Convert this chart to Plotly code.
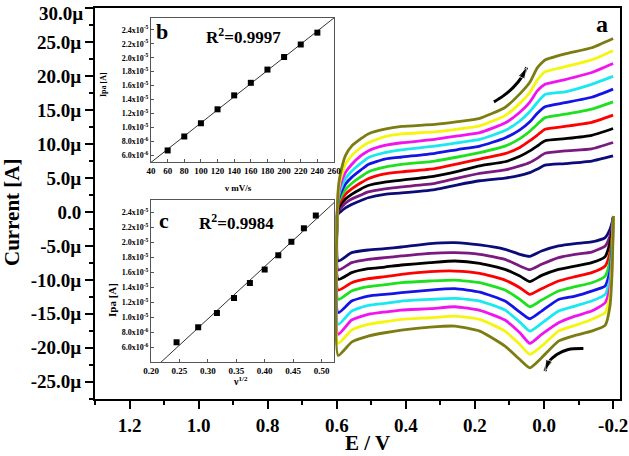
import numpy as np
import plotly.graph_objects as go

# ---------------- main CV data (E in V, current in µA) ----------------
E_lower = [-0.201, -0.197, -0.191, -0.177, -0.138, -0.090, -0.042, 0.007, 0.041, 0.070,
           0.113, 0.186, 0.258, 0.330, 0.413, 0.461, 0.509, 0.557, 0.596]
E_upper = [0.598, 0.595, 0.590, 0.575, 0.557, 0.530, 0.509, 0.461, 0.412, 0.316,
           0.250, 0.186, 0.113, 0.070, 0.041, 0.020, -0.003, -0.061, -0.138, -0.200]

navy_low = [-0.6, -1.57, -2.55, -3.78, -4.42, -4.66, -5.01, -5.75, -6.53, -6.24, -5.5, -4.86, -4.52, -4.66, -5.16, -5.40, -5.6, -5.99, -7.22]
purple_low = [-0.6, -2.06, -3.53, -5.01, -5.9, -6.24, -6.73, -7.71, -8.5, -7.96, -6.98, -6.24, -5.99, -6.09, -6.48, -6.73, -6.98, -7.47, -8.55]
black_low = [-0.6, -2.8, -4.52, -6.58, -7.47, -7.96, -8.45, -9.34, -10.27, -9.44, -8.45, -7.56, -7.22, -7.47, -7.81, -8.11, -8.35, -8.94, -9.93]
red_low = [-0.6, -3.53, -5.99, -7.96, -8.94, -9.53, -10.17, -11.3, -12.14, -11.16, -10.03, -9.04, -8.7, -8.79, -9.19, -9.53, -9.83, -10.42, -11.5]
green_low = [-0.6, -4.27, -7.22, -9.44, -10.42, -11.01, -11.65, -12.98, -13.96, -12.88, -11.5, -10.42, -10.03, -10.17, -10.42, -10.71, -11.01, -11.65, -12.88]
blue_low = [-0.6, -5.01, -8.7, -10.91, -11.65, -12.39, -12.88, -14.6, -15.73, -14.74, -13.12, -11.8, -11.3, -11.5, -11.89, -12.14, -12.39, -13.12, -14.84]
cyan_low = [-0.6, -5.99, -9.93, -12.14, -13.12, -13.86, -14.6, -16.41, -17.55, -16.22, -14.45, -13.12, -12.73, -12.88, -13.12, -13.47, -13.76, -14.6, -16.56]
magenta_low = [-0.6, -6.98, -11.16, -13.37, -14.6, -15.34, -16.32, -18.04, -19.36, -17.79, -15.92, -14.5, -13.96, -14.25, -14.45, -14.74, -15.09, -15.92, -18.04]
yellow_low = [-0.6, -7.96, -12.39, -14.84, -15.83, -16.71, -17.55, -19.76, -20.98, -19.51, -17.55, -15.83, -15.34, -15.58, -15.83, -16.17, -16.56, -17.4, -19.36]
olive_low = [-0.6, -8.94, -13.86, -16.71, -17.55, -18.19, -19.02, -21.48, -22.96, -21.73, -19.76, -17.55, -16.81, -16.96, -17.4, -17.79, -18.28, -19.17, -21.13]

navy_up = [-0.6, -0.2, 0.0, 0.6, 1.1, 1.7, 2.1, 2.6, 2.8, 3.3, 4.0, 4.6, 5.0, 5.4, 5.8, 6.3, 6.9, 7.13, 7.5, 8.26]
purple_up = [-0.4, 0.2, 0.5, 1.3, 1.9, 2.5, 2.95, 3.4, 3.7, 4.2, 5.0, 5.7, 6.2, 6.8, 7.3, 7.9, 8.65, 9.0, 9.3, 10.23]
black_up = [-0.2, 0.6, 1.0, 1.9, 2.6, 3.4, 3.9, 4.4, 4.7, 5.3, 6.0, 6.8, 7.4, 8.2, 9.0, 9.7, 10.5, 10.8, 11.3, 12.3]
red_up = [0.0, 1.0, 1.5, 2.6, 3.4, 4.3, 4.9, 5.6, 5.9, 6.4, 7.1, 7.8, 8.6, 9.5, 10.5, 11.3, 12.2, 12.6, 13.2, 14.26]
green_up = [0.2, 1.4, 2.0, 3.3, 4.2, 5.2, 5.9, 6.6, 7.0, 7.5, 8.1, 8.75, 9.7, 10.8, 11.9, 12.9, 13.9, 14.4, 15.15, 16.23]
blue_up = [0.4, 1.8, 2.6, 4.1, 5.1, 6.2, 7.0, 7.8, 8.1, 8.65, 9.2, 9.7, 10.9, 12.1, 13.3, 14.5, 15.5, 16.1, 16.9, 18.1]
cyan_up = [0.6, 2.2, 3.2, 4.9, 6.0, 7.2, 8.0, 8.75, 9.15, 9.7, 10.2, 10.7, 12.0, 13.4, 14.8, 16.1, 17.3, 17.7, 18.8, 19.97]
magenta_up = [0.8, 2.6, 3.9, 5.8, 7.0, 8.3, 9.0, 9.8, 10.2, 10.7, 11.2, 11.7, 13.1, 14.7, 16.2, 17.8, 18.8, 19.5, 20.55, 21.88]
yellow_up = [1.0, 3.1, 4.7, 7.0, 8.3, 9.5, 10.2, 11.1, 11.5, 11.8, 12.2, 12.7, 14.2, 16.0, 17.6, 19.4, 20.65, 21.4, 22.4, 23.75]
olive_up = [1.2, 3.8, 5.5, 8.3, 9.7, 10.8, 11.5, 12.2, 12.6, 12.9, 13.3, 13.8, 15.4, 17.4, 19.1, 21.2, 22.4, 23.3, 24.2, 25.57]

curve_colors = ["#0c0c78", "#7a1a80", "#000000", "#ff0000", "#1fe01f",
                "#1414e6", "#1ae8f0", "#f014f0", "#f5f510", "#7c7c12"]

# scan direction arrows (E in V, current in µA)
arrow1_E = [0.145, 0.118, 0.089, 0.065, 0.050]
arrow1_I = [16.22, 17.1, 18.35, 19.82, 21.3]
arrow2_E = [-0.114, -0.070, -0.037, -0.012, -0.003]
arrow2_I = [-20.1, -20.25, -21.0, -22.2, -23.45]

# main axis ticks (the top "30.0µ" label is placed as text just below its tick)
y_ticks = [30, 25, 20, 15, 10, 5, 0, -5, -10, -15, -20, -25]
y_ticklabels = ["", "25.0µ", "20.0µ", "15.0µ", "10.0µ", "5.0µ", "0.0",
                "-5.0µ", "-10.0µ", "-15.0µ", "-20.0µ", "-25.0µ"]
y_top_label = "30.0µ"
x_ticks = [1.2, 1.0, 0.8, 0.6, 0.4, 0.2, 0.0, -0.2]
x_ticklabels = ["1.2", "1.0", "0.8", "0.6", "0.4", "0.2", "0.0", "-0.2"]

# ---------------- inset data ----------------
scan_rate = [60, 80, 100, 120, 140, 160, 180, 200, 220, 240]       # mV/s
sqrt_rate = [0.245, 0.283, 0.316, 0.346, 0.374, 0.400, 0.424, 0.447, 0.469, 0.490]
ipa = [6.7e-6, 8.7e-6, 10.6e-6, 12.6e-6, 14.6e-6, 16.4e-6, 18.3e-6, 20.1e-6, 21.9e-6, 23.6e-6]

inset_y_ticks = [6e-6, 8e-6, 1.0e-5, 1.2e-5, 1.4e-5, 1.6e-5, 1.8e-5, 2.0e-5, 2.2e-5, 2.4e-5]
inset_y_labels = ["6.0x10<sup>-6</sup>", "8.0x10<sup>-6</sup>", "1.0x10<sup>-5</sup>", "1.2x10<sup>-5</sup>",
                  "1.4x10<sup>-5</sup>", "1.6x10<sup>-5</sup>", "1.8x10<sup>-5</sup>", "2.0x10<sup>-5</sup>",
                  "2.2x10<sup>-5</sup>", "2.4x10<sup>-5</sup>"]
b_x_ticks = [40, 60, 80, 100, 120, 140, 160, 180, 200, 220, 240, 260]
c_x_ticks = [0.20, 0.25, 0.30, 0.35, 0.40, 0.45, 0.50]
c_x_labels = ["0.20", "0.25", "0.30", "0.35", "0.40", "0.45", "0.50"]

# ---------------- figure ----------------
W, H = 629, 456
ML, MR, MT, MB = 95, 9, 8, 57
PW, PH = W - ML - MR, H - MT - MB


def px(x):
    return (x - ML) / PW


def py(y):
    return (H - MB - y) / PH


SERIF = "Liberation Serif"
fig = go.Figure()

lows = [navy_low, purple_low, black_low, red_low, green_low, blue_low, cyan_low, magenta_low, yellow_low, olive_low]
ups = [navy_up, purple_up, black_up, red_up, green_up, blue_up, cyan_up, magenta_up, yellow_up, olive_up]
for low, up, col in zip(lows, ups, curve_colors):
    fig.add_trace(go.Scatter(
        x=E_lower + E_upper, y=low + up, mode="lines",
        line=dict(color=col, width=2.8, shape="spline", smoothing=0.5),
        showlegend=False, hoverinfo="skip", xaxis="x", yaxis="y"))

for ae, ai in [(arrow1_E, arrow1_I), (arrow2_E, arrow2_I)]:
    fig.add_trace(go.Scatter(
        x=ae, y=ai, mode="lines+markers",
        line=dict(color="black", width=3, shape="spline"),
        marker=dict(symbol="arrow", size=[0, 0, 0, 0, 12], angleref="previous", color="black"),
        showlegend=False, hoverinfo="skip", xaxis="x", yaxis="y"))

# inset b
b_fit = np.polyfit(scan_rate, ipa, 1)
bx = [40, 260]
fig.add_trace(go.Scatter(x=bx, y=list(np.polyval(b_fit, bx)), mode="lines",
                         line=dict(color="#333", width=1), showlegend=False,
                         xaxis="x2", yaxis="y2", hoverinfo="skip"))
fig.add_trace(go.Scatter(x=scan_rate, y=ipa, mode="markers",
                         marker=dict(symbol="square", size=6, color="black"),
                         showlegend=False, xaxis="x2", yaxis="y2"))
# inset c
c_fit = np.polyfit(sqrt_rate, ipa, 1)
cx = [0.20, 0.525]
fig.add_trace(go.Scatter(x=cx, y=list(np.polyval(c_fit, cx)), mode="lines",
                         line=dict(color="#333", width=1), showlegend=False,
                         xaxis="x3", yaxis="y3", hoverinfo="skip"))
fig.add_trace(go.Scatter(x=sqrt_rate, y=ipa, mode="markers",
                         marker=dict(symbol="square", size=6, color="black"),
                         showlegend=False, xaxis="x3", yaxis="y3"))

main_font = dict(family=SERIF, size=19, color="black", weight="bold")
inset_font = dict(family=SERIF, size=8, color="black", weight="bold")

fig.update_layout(
    width=W, height=H,
    margin=dict(l=ML, r=MR, t=MT, b=MB, autoexpand=False),
    paper_bgcolor="white", plot_bgcolor="white",
    xaxis=dict(domain=[0, 1], range=[1.30, -0.22], showgrid=False, zeroline=False, automargin=False,
               showline=True, linecolor="black", linewidth=2, mirror=True, ticklabeloverflow="allow",
               ticks="outside", ticklen=8, tickwidth=1.5, tickcolor="black",
               tickvals=x_ticks, ticktext=x_ticklabels, tickfont=main_font,
               minor=dict(ticks="outside", ticklen=4, tickwidth=1.5, tickcolor="black",
                          tickvals=[1.3, 1.1, 0.9, 0.7, 0.5, 0.3, 0.1, -0.1])),
    yaxis=dict(domain=[0, 1], range=[-27.55, 30.05], showgrid=False, zeroline=False, automargin=False,
               showline=True, linecolor="black", linewidth=2, mirror=True, ticklabeloverflow="allow",
               ticks="outside", ticklen=8, tickwidth=1.5, tickcolor="black",
               tickvals=y_ticks, ticktext=y_ticklabels, tickfont=main_font,
               minor=dict(ticks="outside", ticklen=4, tickwidth=1.5, tickcolor="black",
                          tickvals=[27.5, 22.5, 17.5, 12.5, 7.5, 2.5, -2.5, -7.5, -12.5, -17.5, -22.5, -27.5])),
    xaxis2=dict(domain=[px(151), px(334)], range=[40, 260], anchor="y2", automargin=False,
                showgrid=False, zeroline=False, showline=True, linecolor="#555", linewidth=1, mirror=True,
                ticks="inside", ticklen=3, tickcolor="#555", tickvals=b_x_ticks,
                tickfont=dict(family=SERIF, size=9, color="black", weight="bold")),
    yaxis2=dict(domain=[py(162), py(18)], range=[5.04e-6, 25.7e-6], anchor="x2", automargin=False,
                showgrid=False, zeroline=False, showline=True, linecolor="#555", linewidth=1, mirror=True,
                ticks="inside", ticklen=3, tickcolor="#555",
                tickvals=inset_y_ticks, ticktext=inset_y_labels, tickfont=inset_font),
    xaxis3=dict(domain=[px(151), px(334)], range=[0.20, 0.522], anchor="y3", automargin=False,
                showgrid=False, zeroline=False, showline=True, linecolor="#555", linewidth=1, mirror=True,
                ticks="inside", ticklen=3, tickcolor="#555", tickvals=c_x_ticks, ticktext=c_x_labels,
                tickfont=dict(family=SERIF, size=9, color="black", weight="bold")),
    yaxis3=dict(domain=[py(362), py(200)], range=[4.07e-6, 25.67e-6], anchor="x3", automargin=False,
                showgrid=False, zeroline=False, showline=True, linecolor="#555", linewidth=1, mirror=True,
                ticks="inside", ticklen=3, tickcolor="#555",
                tickvals=inset_y_ticks, ticktext=inset_y_labels, tickfont=inset_font),
)


def ann(text, x, y, size, angle=0, xanchor="center"):
    fig.add_annotation(text=text, x=px(x), y=py(y), xref="paper", yref="paper",
                       showarrow=False, textangle=angle, xanchor=xanchor, yanchor="middle",
                       font=dict(family=SERIF, size=size, color="black", weight="bold"))


ann(y_top_label, 85, 13, 19, xanchor="right")
ann("Current [A]", 12, 212, 21, angle=-90)
ann("E / V", 367, 443, 21)
ann("a", 602, 24, 24)
ann("b", 162, 31, 22)
ann("R<sup>2</sup>=0.9997", 243, 36, 17)
ann("c", 164, 220, 22)
ann("R<sup>2</sup>=0.9984", 236, 222, 17)
ann("ν mV/s", 238, 188, 9)
ann("Ipa [A]", 104, 85, 8, angle=-90)
ann("ν<sup>1/2</sup>", 240, 381, 10)
ann("Ipa [A]", 112, 300, 11, angle=-90)

fig.write_html("out.html", config={"displayModeBar": False},
               post_script="document.body.style.margin='0';document.body.style.overflow='hidden';")
